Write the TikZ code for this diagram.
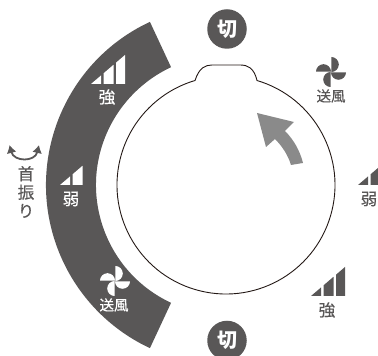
\documentclass[tikz,border=0pt]{standalone}
\usepackage{fontspec}
\setmainfont{Noto Sans CJK JP}
\newfontfamily\labelfont[FakeBold=0.4]{Noto Sans CJK JP}
\usetikzlibrary{arrows.meta}
\definecolor{darkgrey}{HTML}{595757}
\definecolor{arrowgrey}{HTML}{8A8A8A}
\definecolor{dialline}{HTML}{231815}
\begin{document}
\begin{tikzpicture}[x=1pt,y=1pt]
		\tikzset{mylabel/.style={font=\labelfont\fontsize{16.5}{18.5}\selectfont,inner sep=0pt,text=darkgrey,align=center}}
		\tikzset{fanlabel/.style={mylabel,font=\labelfont\fontsize{14.5}{18}\selectfont}}
		\tikzset{offbadge/.style={circle,fill=darkgrey,minimum size=39.5pt,inner sep=0pt,text=white,font=\fontsize{20}{20}\selectfont\bfseries}}
		\tikzset{pics/signalthree/.style={code={
			\fill[#1] (0,0) -- (10,0) -- (10,8.5) -- cycle;
			\fill[#1] (12.7,0) -- (22.5,0) -- (22.5,19.2) -- (12.7,10.8) -- cycle;
			\fill[#1] (25,0) -- (34,0) -- (34,29) -- (25,21.3) -- cycle;
		}}}
		\tikzset{pics/signaltwo/.style={code={
			\fill[#1] (0,0) -- (10,0) -- (10,8.5) -- cycle;
			\fill[#1] (12.7,0) -- (22.5,0) -- (22.5,19.2) -- (12.7,10.8) -- cycle;
		}}}
		\tikzset{pics/fanicon/.style={code={
			\fill[#1] (0.3,0) -- (0.3,15) arc[start angle=90,end angle=-90,radius=7.5] -- cycle;
			\fill[#1] (0,-0.3) -- (15,-0.3) arc[start angle=0,end angle=-180,radius=7.5] -- cycle;
			\fill[#1] (-0.3,0) -- (-0.3,-15) arc[start angle=-90,end angle=-270,radius=7.5] -- cycle;
			\fill[#1] (0,0.3) -- (-15,0.3) arc[start angle=180,end angle=0,radius=7.5] -- cycle;
		}}}
		\useasboundingbox (0,0) rectangle (378,356);
		\coordinate (hub) at (226,171);
		%Band
		\fill[darkgrey] (hub) ++(115:180) arc[start angle=115,end angle=245,radius=180]
			-- ([shift={(245:130)}]hub) arc[start angle=245,end angle=115,radius=130] -- cycle;
		%Dial
		\draw[dialline,line width=0.9pt] (hub) ++(73.6:109) arc[start angle=73.6,end angle=-253.5,radius=109]
			.. controls (199,288) and (205,291) .. (212,291) -- (240,291)
			.. controls (248,291) and (254,288) .. (257,275.6);
		%Turn arrow
		\fill[arrowgrey] (257,243) -- (294,234) -- (285,225) .. controls (294,216) and (300,205) .. (303,193)
			-- (291,191) .. controls (288,201) and (282,210) .. (275,217) -- (266,209) -- cycle;
		%Off
		\node[offbadge] (offtop) at (227,327) {切};
		\node[offbadge] (offbottom) at (227,15.5) {切};
		%Left side
		\pic at (91,272) {signalthree=white};
		\node[mylabel,text=white] (stronginner) at (107,259) {強};
		\pic at (60,171) {signaltwo=white};
		\node[mylabel,text=white] (weakinner) at (71,157) {弱};
		\pic at (115,75) {fanicon=white};
		\node[fanlabel,text=white] (faninner) at (114,51) {送風};
		%Right side
		\pic at (331,284) {fanicon=darkgrey};
		\node[fanlabel] (fanouter) at (331,260) {送風};
		\pic at (358,171) {signaltwo=darkgrey};
		\node[mylabel] (weakouter) at (369,157) {弱};
		\pic at (311,60) {signalthree=darkgrey};
		\node[mylabel] (strongouter) at (327,46) {強};
		%Swing
		\coordinate (swingleft) at (9.5,211);
		\coordinate (swingright) at (39,211);
		\draw[darkgrey,line width=1.8pt,{Latex[length=8pt,width=10pt]}-{Latex[length=8pt,width=10pt]}] (swingleft) .. controls (14,194) and (35,194) .. (swingright);
		\node[mylabel] (swinglabel) at (26,164) {首\\振\\り};
	\end{tikzpicture}
\end{document}
